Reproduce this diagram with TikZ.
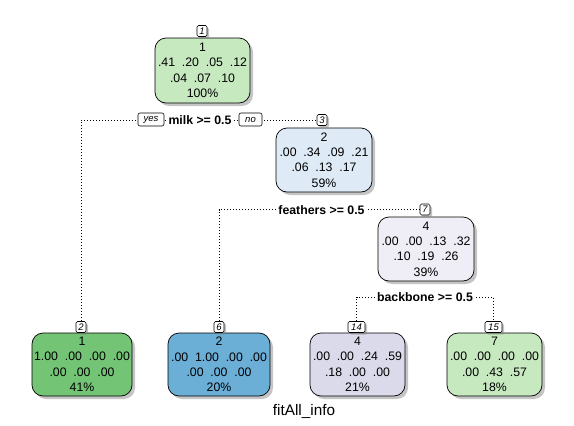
\documentclass[tikz,border=0pt]{standalone}
\usepackage{fontspec}
\setmainfont{Liberation Sans}
\usetikzlibrary{shadows,backgrounds}
\definecolor{g1}{HTML}{C7E9C0}
\definecolor{g2}{HTML}{74C476}
\definecolor{b1}{HTML}{DEEBF7}
\definecolor{b2}{HTML}{6BAED6}
\definecolor{p1}{HTML}{EFEDF5}
\definecolor{p2}{HTML}{DADAEB}
\begin{document}
\begin{tikzpicture}[x=1pt,y=-1pt,
  nodebox/.style={draw, line width=0.7pt, rounded corners=11pt, align=center, inner sep=0pt,
    font=\fontsize{12.3}{15.4}\selectfont,
    drop shadow={shadow xshift=3pt,shadow yshift=-3pt,fill=black!50,opacity=0.45}},
  tab/.style={draw, fill=white, line width=0.6pt, rounded corners=1.5pt, inner sep=0pt,
    minimum height=11pt, font=\fontsize{9.5}{9.5}\selectfont\itshape,
    drop shadow={shadow xshift=2pt,shadow yshift=-2pt,fill=black!50,opacity=0.45}},
  split/.style={fill=white, inner xsep=1.5pt, inner ysep=1pt, font=\fontsize{12.3}{14}\selectfont\bfseries},
  yn/.style={draw, fill=white, line width=0.6pt, rounded corners=2pt, inner sep=0pt,
    minimum height=13pt, font=\fontsize{9.5}{10}\selectfont\itshape},
  branch/.style={line width=0.8pt, dash pattern=on 0.8pt off 2.2pt}
]
\useasboundingbox (0,0) rectangle (574,426);

% inner nodes
\node[nodebox, fill=g1, minimum width=95pt, minimum height=65pt] (n1) at (202.5,70.5)
  {1\\.41~~.20~~.05~~.12\\.04~~.07~~.10\\100\%};
\node[nodebox, fill=b1, minimum width=96pt, minimum height=64pt] (n3) at (324,160)
  {2\\.00~~.34~~.09~~.21\\.06~~.13~~.17\\59\%};
\node[nodebox, fill=p1, minimum width=96pt, minimum height=64pt] (n7) at (426,249)
  {4\\.00~~.00~~.13~~.32\\.10~~.19~~.26\\39\%};

% leaves
\node[nodebox, fill=g2, minimum width=100pt, minimum height=63pt] (n2) at (82,364.5)
  {1\\1.00~~.00~~.00~~.00\\.00~~.00~~.00\\41\%};
\node[nodebox, fill=b2, minimum width=102pt, minimum height=63pt] (n6) at (219,364.5)
  {2\\.00~~1.00~~.00~~.00\\.00~~.00~~.00\\20\%};
\node[nodebox, fill=p2, minimum width=95pt, minimum height=63pt] (n14) at (357.5,364.5)
  {4\\.00~~.00~~.24~~.59\\.18~~.00~~.00\\21\%};
\node[nodebox, fill=g1, minimum width=95pt, minimum height=63pt] (n15) at (494.5,364.5)
  {7\\.00~~.00~~.00~~.00\\.00~~.43~~.57\\18\%};

% node number tabs
\node[tab, minimum width=10pt] (t1) at (202,31) {1};
\node[tab, minimum width=10pt] (t3) at (322,120) {3};
\node[tab, minimum width=10pt] (t7) at (425,209.5) {7};
\node[tab, minimum width=10pt] (t2) at (81,327) {2};
\node[tab, minimum width=10pt] (t6) at (219,327) {6};
\node[tab, minimum width=17pt] (t14) at (356.5,327) {14};
\node[tab, minimum width=17pt] (t15) at (493.5,327) {15};

% split labels
\node[split] (milk) at (200,120) {milk >= 0.5};
\node[yn, minimum width=26pt] (yes) at (151,119.5) {yes};
\node[yn, minimum width=23pt] (no) at (250.5,119.5) {no};
\node[split] (fea) at (321.5,210) {feathers >= 0.5};
\node[split] (bb) at (425,297) {backbone >= 0.5};

% title
\node[font=\fontsize{15.3}{16}\selectfont] (title) at (304,411) {fitAll\_info};

% branches
\begin{scope}[on background layer]
\fill[white] (0,0) rectangle (574,426);
\draw[branch] (t2.north) |- (t3.west);
\draw[branch] (t6.north) |- (t7.west);
\draw[branch] (t14.north) |- (bb.center) -| (t15.north);
\end{scope}
\end{tikzpicture}
\end{document}
